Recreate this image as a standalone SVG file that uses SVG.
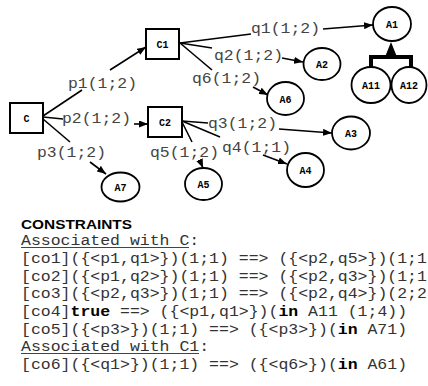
<svg xmlns="http://www.w3.org/2000/svg" width="428" height="386" viewBox="0 0 428 386">
<defs>
<marker id="arr" markerUnits="userSpaceOnUse" markerWidth="9" markerHeight="7" refX="9" refY="3.5" orient="auto">
<path d="M0,0 L9,3.5 L0,7 z" fill="#000"/>
</marker>
<style>
.box{fill:#fff;stroke:#000;stroke-width:2}
.circ{fill:#fff;stroke:#000;stroke-width:1.8}
.nl{font-family:"Liberation Mono",monospace;font-weight:bold;font-size:10px;text-anchor:middle;fill:#000}
.lbl{font-family:"Liberation Mono",monospace;font-size:14px;fill:#444}
.ln{stroke:#000;stroke-width:1.6;fill:none}
.ar{stroke:#000;stroke-width:1.6;fill:none;marker-end:url(#arr)}
.ct{font-family:"Liberation Mono",monospace;font-size:14px;fill:#333}
.b{font-weight:bold;fill:#000}
.title{font-family:"Liberation Sans",Arial,sans-serif;font-weight:bold;font-size:13px;fill:#000}
.ul{stroke:#444;stroke-width:1}
</style>
</defs>
<rect width="428" height="386" fill="#fff"/>

<g id="connectors">
<line class="ln" x1="43" y1="116" x2="82" y2="90"/>
<line class="ar" x1="110" y1="70" x2="146" y2="47"/>
<line class="ln" x1="43" y1="117" x2="63" y2="119"/>
<line class="ar" x1="134" y1="124" x2="148" y2="124"/>
<line class="ln" x1="43" y1="119" x2="70" y2="142"/>
<line class="ar" x1="90" y1="162" x2="106" y2="174"/>
<line class="ln" x1="180" y1="43" x2="251" y2="34"/>
<line class="ar" x1="323" y1="29" x2="373" y2="25"/>
<line class="ln" x1="180" y1="43" x2="212" y2="48"/>
<line class="ar" x1="282" y1="58" x2="303" y2="62"/>
<line class="ln" x1="180" y1="43" x2="212" y2="70"/>
<line class="ar" x1="253" y1="87" x2="268" y2="95"/>
<line class="ln" x1="182" y1="121" x2="208" y2="123"/>
<line class="ar" x1="279" y1="129" x2="332" y2="133"/>
<line class="ln" x1="182" y1="121" x2="220" y2="137"/>
<line class="ar" x1="263" y1="155" x2="287" y2="164"/>
<line class="ln" x1="182" y1="122" x2="192" y2="142"/>
<line class="ar" x1="200" y1="161" x2="203" y2="168"/>
<path d="M371,67 V57 H411 V67" fill="none" stroke="#000" stroke-width="4"/>
<path d="M391,42 L397,57 L385,57 z" fill="#000"/>
<text class="lbl" x="68" y="88" textLength="69" lengthAdjust="spacingAndGlyphs">p1(1;2)</text>
<text class="lbl" x="62" y="123" textLength="69" lengthAdjust="spacingAndGlyphs">p2(1;2)</text>
<text class="lbl" x="37" y="157" textLength="69" lengthAdjust="spacingAndGlyphs">p3(1;2)</text>
<text class="lbl" x="251" y="33" textLength="69" lengthAdjust="spacingAndGlyphs">q1(1;2)</text>
<text class="lbl" x="214" y="60" textLength="69" lengthAdjust="spacingAndGlyphs">q2(1;2)</text>
<text class="lbl" x="192" y="83" textLength="69" lengthAdjust="spacingAndGlyphs">q6(1;2)</text>
<text class="lbl" x="208" y="128" textLength="69" lengthAdjust="spacingAndGlyphs">q3(1;2)</text>
<text class="lbl" x="222" y="152" textLength="69" lengthAdjust="spacingAndGlyphs">q4(1;1)</text>
<text class="lbl" x="150" y="157" textLength="69" lengthAdjust="spacingAndGlyphs">q5(1;2)</text>
</g>

<g id="C"><rect class="box" x="10" y="103" width="33" height="30"/><text class="nl" x="26.5" y="122">C</text></g>
<g id="C1"><rect class="box" x="146" y="29" width="33" height="30"/><text class="nl" x="162.5" y="48">C1</text></g>
<g id="C2"><rect class="box" x="148" y="107" width="34" height="30"/><text class="nl" x="165" y="126">C2</text></g>
<g id="A1"><ellipse class="circ" cx="392" cy="24" rx="19" ry="17"/><text class="nl" x="392" y="28">A1</text></g>
<g id="A11"><ellipse class="circ" cx="371" cy="85" rx="19.5" ry="18"/><text class="nl" x="371" y="89">A11</text></g>
<g id="A12"><ellipse class="circ" cx="409" cy="85" rx="17.5" ry="18"/><text class="nl" x="409" y="89">A12</text></g>
<g id="A2"><ellipse class="circ" cx="322" cy="64" rx="18.5" ry="16"/><text class="nl" x="322" y="68">A2</text></g>
<g id="A6"><ellipse class="circ" cx="285.5" cy="98.5" rx="18.5" ry="16.5"/><text class="nl" x="285.5" y="102.5">A6</text></g>
<g id="A3"><ellipse class="circ" cx="351" cy="133" rx="19" ry="16.5"/><text class="nl" x="351" y="137">A3</text></g>
<g id="A4"><ellipse class="circ" cx="305.5" cy="170" rx="18.5" ry="17"/><text class="nl" x="305.5" y="174">A4</text></g>
<g id="A5"><ellipse class="circ" cx="203.5" cy="184" rx="18.5" ry="16"/><text class="nl" x="203.5" y="188">A5</text></g>
<g id="A7"><ellipse class="circ" cx="120.5" cy="187" rx="19" ry="14.5"/><text class="nl" x="120.5" y="191">A7</text></g>

<g id="constraints">
<text class="title" x="21" y="229" textLength="111" lengthAdjust="spacingAndGlyphs">CONSTRAINTS</text>
<text class="ct" x="21" y="245" textLength="178.2" lengthAdjust="spacingAndGlyphs">Associated with C:</text>
<line class="ul" x1="21" y1="247.5" x2="189" y2="247.5"/>
<text class="ct" x="21" y="263" textLength="405.9" lengthAdjust="spacingAndGlyphs">[co1]({&lt;p1,q1&gt;})(1;1) ==&gt; ({&lt;p2,q5&gt;})(1;1</text>
<text class="ct" x="21" y="280.5" textLength="405.9" lengthAdjust="spacingAndGlyphs">[co2]({&lt;p1,q2&gt;})(1;1) ==&gt; ({&lt;p2,q3&gt;})(1;1</text>
<text class="ct" x="21" y="298" textLength="405.9" lengthAdjust="spacingAndGlyphs">[co3]({&lt;p2,q3&gt;})(1;1) ==&gt; ({&lt;p2,q4&gt;})(2;2</text>
<text class="ct" x="21" y="316" textLength="386.1" lengthAdjust="spacingAndGlyphs">[co4]<tspan class="b">true</tspan> ==&gt; ({&lt;p1,q1&gt;})(<tspan class="b">in</tspan> A11 (1;4))</text>
<text class="ct" x="21" y="333.5" textLength="386.1" lengthAdjust="spacingAndGlyphs">[co5]({&lt;p3&gt;})(1;1) ==&gt; ({&lt;p3&gt;})(<tspan class="b">in</tspan> A71)</text>
<text class="ct" x="21" y="351" textLength="188.1" lengthAdjust="spacingAndGlyphs">Associated with C1:</text>
<line class="ul" x1="21" y1="353.5" x2="199" y2="353.5"/>
<text class="ct" x="21" y="369" textLength="386.1" lengthAdjust="spacingAndGlyphs">[co6]({&lt;q1&gt;})(1;1) ==&gt; ({&lt;q6&gt;})(<tspan class="b">in</tspan> A61)</text>
</g>
</svg>
